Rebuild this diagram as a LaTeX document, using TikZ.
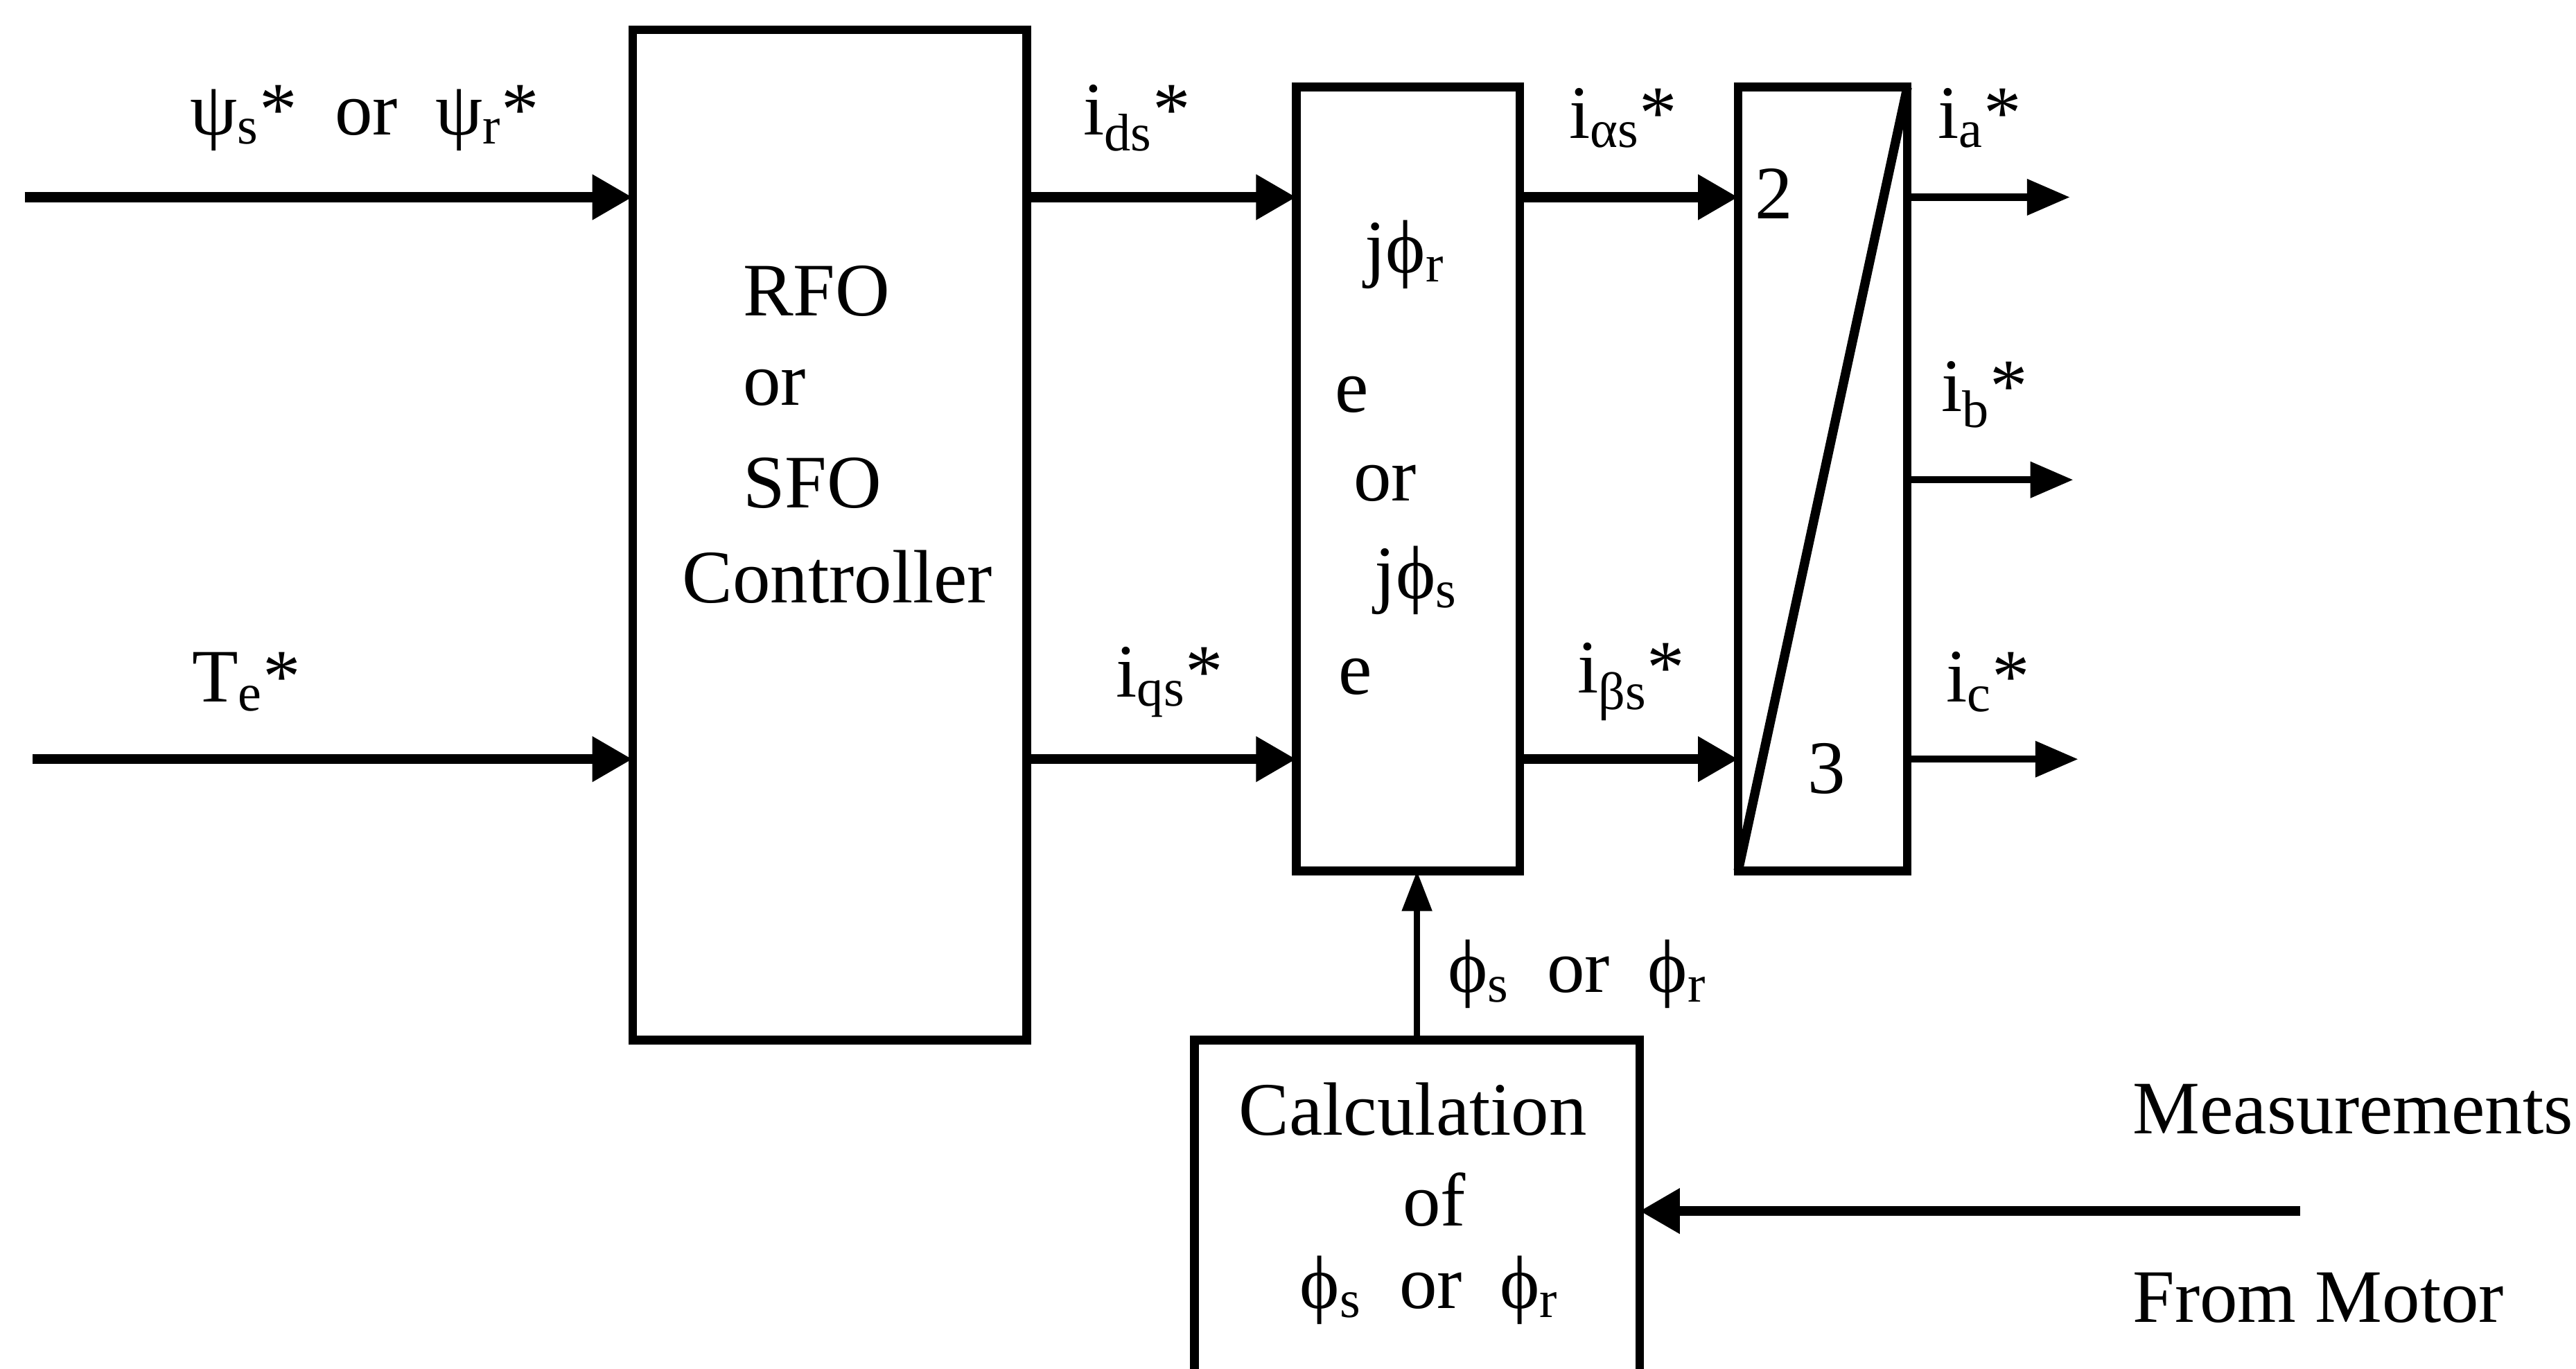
\documentclass[tikz,border=0pt]{standalone}
\usepackage{fontspec}
\setmainfont{Liberation Serif}
\usetikzlibrary{arrows.meta}
\def\u{0.023705cm}
\begin{document}
\begin{tikzpicture}[x=\u,y=-\u, line join=miter]
\useasboundingbox (0,0) rectangle (1568,833);
\tikzset{
 blk/.style={draw, line width=3.5pt, inner sep=0, outer sep=0},
 txt/.style={font=\fontsize{31}{37}\selectfont, inner sep=0},
 bigarrow/.style={line width=4pt, -{Triangle[length=0.58cm,width=0.62cm]}},
 smallarrow/.style={line width=3pt, -{Triangle[length=0.62cm,width=0.5cm]}},
 thinarrow/.style={line width=2.4pt, -{Triangle[length=0.58cm,width=0.42cm]}},
}
% blocks
\node[blk, minimum width=240*\u, minimum height=615*\u] (ctrl) at (505,325.5) {};
\node[blk, minimum width=136*\u, minimum height=477*\u] (rot) at (857,291.5) {};
\node[blk, minimum width=103*\u, minimum height=477*\u] (conv) at (1109.5,291.5) {};
\node[inner sep=0, outer sep=0, minimum width=271*\u, minimum height=200*\u] (calc) at (862.5,733) {};
\draw[line width=3.5pt] (calc.south west) |- (calc.north east) -- (calc.south east);
\draw[line width=3.8pt] (conv.north east) -- (conv.south west);

% coordinates
\coordinate (in1) at (15,120);
\coordinate (in2) at (20,462);
\coordinate (oa) at (1260,120);
\coordinate (ob) at (1262,292);
\coordinate (oc) at (1265,462);
\coordinate (meas) at (1400,737);

% connectors
\draw[bigarrow] (in1) -- (in1 -| ctrl.west);
\draw[bigarrow] (in2) -- (in2 -| ctrl.west);
\draw[bigarrow] (ctrl.east |- in1) -- (rot.west |- in1);
\draw[bigarrow] (ctrl.east |- in2) -- (rot.west |- in2);
\draw[bigarrow] (rot.east |- in1) -- (conv.west |- in1);
\draw[bigarrow] (rot.east |- in2) -- (conv.west |- in2);
\draw[smallarrow] (conv.east |- oa) -- (oa);
\draw[smallarrow] (conv.east |- ob) -- (ob);
\draw[smallarrow] (conv.east |- oc) -- (oc);
\draw[thinarrow] (calc.north) -- (calc.north |- rot.south);
\draw[bigarrow] (meas) -- (meas -| calc.east);

% labels
\node[txt] (lpsi) at (222,72) {ψ\textsubscript{s}*\ \ or\ \ ψ\textsubscript{r}*};
\node[txt] (lte) at (150,415) {T\textsubscript{e}*};
\node[txt] (lids) at (692,72) {i\textsubscript{ds}*};
\node[txt] (liqs) at (712,415) {i\textsubscript{qs}*};
\node[txt] (lias) at (988,72) {i\textsubscript{αs}*};
\node[txt] (libs) at (993,415) {i\textsubscript{βs}*};
\node[txt] (lia) at (1205,72) {i\textsubscript{a}*};
\node[txt] (lib) at (1208,240) {i\textsubscript{b}*};
\node[txt] (lic) at (1210,415) {i\textsubscript{c}*};
\node[txt] (lphi) at (960,593) {ϕ\textsubscript{s}\ \ or\ \ ϕ\textsubscript{r}};
\node[txt, anchor=west] (lmeas) at (1298,675) {Measurements};
\node[txt, anchor=west] (lmot) at (1298,790) {From Motor};

% controller text
\node[txt, anchor=west] (t1) at (452,177) {RFO};
\node[txt, anchor=west] (t2) at (452,236) {or};
\node[txt, anchor=west] (t3) at (452,294) {SFO};
\node[txt, anchor=west] (t4) at (415,351) {Controller};

% rotation text
\node[txt] (r1) at (855,155) {jϕ\textsubscript{r}};
\node[txt] (r2) at (823,240) {e};
\node[txt] (r3) at (843,294) {or};
\node[txt] (r4) at (862,353) {jϕ\textsubscript{s}};
\node[txt] (r5) at (825,412) {e};

% conversion text
\node[txt] (c2) at (1080,118) {2};
\node[txt] (c3) at (1112,468) {3};

% calc text
\node[txt] (k1) at (860,675) {Calculation};
\node[txt] (k2) at (873,730) {of};
\node[txt] (k3) at (870,785) {ϕ\textsubscript{s}\ \ or\ \ ϕ\textsubscript{r}};
\end{tikzpicture}
\end{document}
